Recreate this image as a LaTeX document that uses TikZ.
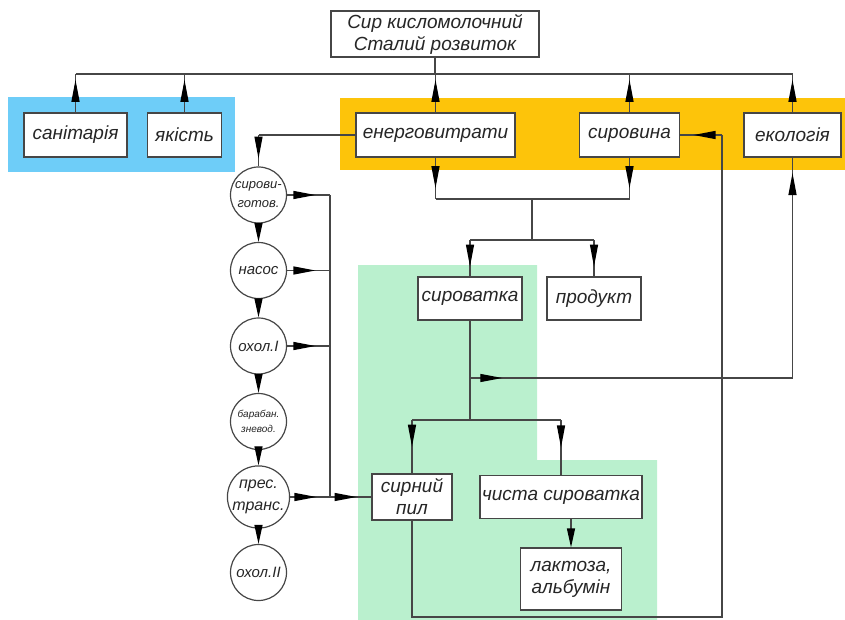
\documentclass[tikz,border=0pt]{standalone}
\usepackage{fontspec}
\setmainfont{Liberation Sans}
\usetikzlibrary{arrows.meta,decorations.markings}
\definecolor{linegray}{RGB}{70,70,70}
\definecolor{skyband}{RGB}{110,205,248}
\definecolor{amberband}{RGB}{253,196,10}
\definecolor{mintband}{RGB}{186,240,206}
\tikzset{
  box/.style={draw=linegray,fill=white,line width=1.2pt,align=center,inner sep=0pt,
    font=\fontsize{19}{22}\selectfont\itshape,text=black!85},
  unit/.style={circle,draw=linegray,fill=white,line width=1.2pt,minimum size=56pt,
    inner sep=0pt,align=center,text=black!85},
  link/.style={draw=linegray,line width=1.2pt},
  arrowat/.style={postaction={decorate},decoration={markings,
    mark=at position #1 with {\arrow{Triangle[length=22pt,width=8pt,color=black]}}}},
  endtip/.style={-{Triangle[length=19pt,width=8pt,color=black]}}
}
\begin{document}
\begin{tikzpicture}[x=1pt,y=-1pt]
\useasboundingbox (0,0) rectangle (845,620);
\fill[skyband] (8,97) rectangle (235,172);
\fill[amberband] (340,98) rectangle (845,170);
\fill[mintband] (358,265) -- (537,265) -- (537,460) -- (657,460) -- (657,620) -- (358,620) -- cycle;

\node[box,minimum width=208pt,minimum height=46pt] (goal) at (435,34) {Сир кисломолочний\\Сталий розвиток};
\node[box,minimum width=103pt,minimum height=44pt] (san) at (75.5,135) {санітарія};
\node[box,minimum width=74pt,minimum height=44pt] (qual) at (184.5,135) {якість};
\node[box,minimum width=159pt,minimum height=44pt] (energy) at (435.5,135) {енерговитрати};
\node[box,minimum width=100pt,minimum height=44pt] (raw) at (629.5,135) {сировина};
\node[box,minimum width=97pt,minimum height=44pt] (eco) at (792.5,135) {екологія};
\node[box,minimum width=104pt,minimum height=43pt] (whey) at (470,298.5) {сироватка};
\node[box,minimum width=94pt,minimum height=43pt] (product) at (594,298.5) {продукт};
\node[box,minimum width=80pt,minimum height=46pt] (curd) at (412,497) {сирний\\пил};
\node[box,minimum width=162pt,minimum height=43pt] (pure) at (561,497) {чиста сироватка};
\node[box,minimum width=101pt,minimum height=62pt] (lactose) at (571,579) {лактоза,\\альбумін};

\node[unit,font=\fontsize{13}{19}\selectfont\itshape] (c1) at (258.5,195) {сирови-\\готов.};
\node[unit,font=\fontsize{15}{18}\selectfont\itshape] (c2) at (258.5,270.5) {насос};
\node[unit,font=\fontsize{15}{18}\selectfont\itshape] (c3) at (258.5,346) {охол.I};
\node[unit,font=\fontsize{10}{15}\selectfont\itshape] (c4) at (258.5,421.5) {барабан.\\зневод.};
\node[unit,font=\fontsize{16}{22}\selectfont\itshape] (c5) at (258.5,497) {прес.\\транс.};
\node[unit,font=\fontsize{15}{18}\selectfont\itshape] (c6) at (258.5,572.5) {охол.II};

\coordinate (bus) at (435,74);
\draw[link] (goal.south) -- (goal.south |- bus);
\draw[link] (san.north |- bus) -- (eco.north |- bus);
\foreach \n in {san,qual,energy,raw,eco}
  \draw[link,arrowat=0.85] (\n.north) -- (\n.north |- bus);

\coordinate (merge) at (532,199);
\coordinate (fork) at (532,240);
\draw[link,arrowat=0.74] (energy.south) -- (energy.south |- merge);
\draw[link,arrowat=0.74] (raw.south) -- (raw.south |- merge);
\draw[link] (energy.south |- merge) -- (raw.south |- merge);
\draw[link] (merge) -- (fork);
\draw[link] (whey.north |- fork) -- (product.north |- fork);
\draw[link,arrowat=0.73] (whey.north |- fork) -- (whey.north);
\draw[link,arrowat=0.73] (product.north |- fork) -- (product.north);

\coordinate (wheytap) at (470,378);
\coordinate (wheysplit) at (470,420);
\draw[link] (whey.south) -- (wheysplit);
\draw[link,arrowat=0.1] (wheytap) -- (wheytap -| eco.south);
\draw[link,arrowat=0.93] (wheytap -| eco.south) -- (eco.south);
\draw[link] (curd.north |- wheysplit) -- (pure.north |- wheysplit);
\draw[link,arrowat=0.5] (curd.north |- wheysplit) -- (curd.north);
\draw[link,arrowat=0.5] (pure.north |- wheysplit) -- (pure.north);
\draw[link,endtip] (lactose.north |- pure.south) -- (lactose.north);

\coordinate (loop) at (722,617);
\draw[link] (curd.south) -- (curd.south |- loop) -- (loop) -- (loop |- raw.east);
\draw[link,arrowat=0.68] (loop |- raw.east) -- (raw.east);

\draw[link] (energy.west) -- (energy.west -| c1);
\draw[link,arrowat=0.75] (energy.west -| c1) -- (c1.north);
\foreach \a/\b in {c1/c2,c2/c3,c3/c4,c4/c5,c5/c6}
  \draw[link,endtip] (\a.south) -- (\b.north);

\coordinate (collect) at (330,497);
\foreach \c in {c1,c2,c3,c5}
  \draw[link,arrowat=0.66] (\c.east) -- (\c.east -| collect);
\draw[link] (c1.east -| collect) -- (collect);
\draw[link,arrowat=0.64] (collect) -- (curd.west);
\end{tikzpicture}
\end{document}
